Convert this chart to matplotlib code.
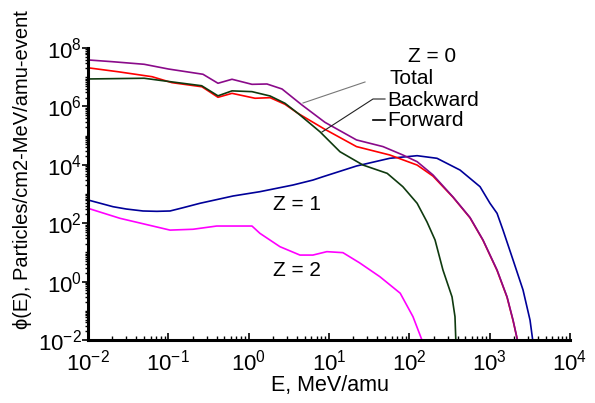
import numpy as np
import matplotlib
matplotlib.use("Agg")
import matplotlib.pyplot as plt
from matplotlib.ticker import LogLocator, FuncFormatter, NullFormatter
from matplotlib.lines import Line2D

plt.rcParams['font.family'] = ['Liberation Sans', 'DejaVu Sans']
plt.rcParams['mathtext.fontset'] = 'custom'
plt.rcParams['mathtext.rm'] = 'Liberation Sans'
plt.rcParams['mathtext.it'] = 'Liberation Sans:italic'
plt.rcParams['mathtext.bf'] = 'Liberation Sans:bold'
plt.rcParams['mathtext.default'] = 'regular'

# ---- data (E in MeV/amu, phi in particles/cm2-MeV/amu-event) ----
E_total = [0.01, 0.02, 0.05, 0.1, 0.27, 0.415, 0.62, 1.1, 1.69, 2.6, 4.6, 8.9,
           22, 47, 83, 125, 197, 350, 569, 826, 1236, 1646, 1955, 2255]
phi_total = [3.9e7, 3.4e7, 2.77e7, 1.91e7, 1.26e7, 6.2e6, 8.5e6, 5.7e6, 5.85e6,
             3.95e6, 1.12e6, 2.85e5, 7.1e4, 4.2e4, 2.17e4, 1.28e4, 4.5e3, 790,
             157, 26.6, 2.5, 0.30, 0.048, 0.008]

E_back = [0.01, 0.0236, 0.0627, 0.111, 0.262, 0.415, 0.62, 1.2, 1.85, 2.83, 4.1,
          8.7, 22, 57, 125, 197, 350, 569, 826, 1236, 1646, 1955, 2255]
phi_back = [2.1e7, 1.54e7, 1.04e7, 6.5e6, 4.7e6, 2.05e6, 2.8e6, 1.9e6, 1.99e6,
            1.18e6, 5.8e5, 1.7e5, 4.2e4, 2.17e4, 9.8e3, 4.1e3, 770, 153, 26,
            2.4, 0.29, 0.046, 0.008]

E_fwd = [0.01, 0.05, 0.091, 0.26, 0.415, 0.62, 1.1, 1.85, 2.83, 4.1, 7.7, 13.7,
         26.5, 53, 83, 125, 166, 209, 262, 340, 370, 380]
phi_fwd = [8.7e6, 9.2e6, 7.4e6, 5.1e6, 2.3e6, 3.4e6, 3.2e6, 2.27e6, 1.28e6,
           5.8e5, 1.36e5, 2.8e4, 9.8e3, 5.1e3, 1.78e3, 481, 110, 26.6, 2.5,
           0.30, 0.063, 0.008]

E_z1 = [0.01, 0.0205, 0.030, 0.0484, 0.072, 0.105, 0.153, 0.248, 0.64, 1.38,
        3.56, 6.3, 8.4, 22, 57, 125, 221, 428, 759, 1009, 1236, 1466, 1955,
        2600, 3180, 3470]
phi_z1 = [624, 367, 306, 262, 255, 262, 340, 481, 855, 1.2e3, 2.03e3, 3.0e3,
          3.9e3, 9.1e3, 1.67e4, 2.05e4, 1.67e4, 6.6e3, 1.78e3, 481, 218, 58,
          5.5, 0.52, 0.048, 0.008]

E_z2 = [0.01, 0.025, 0.105, 0.203, 0.40, 1.1, 1.38, 2.45, 4.35, 6.3, 9.4, 14.9,
        24, 43, 77, 111, 148]
phi_z2 = [324, 147, 58, 62, 80, 80, 45, 15.7, 8.1, 8.1, 10.6, 9.8, 4.4, 1.47,
          0.40, 0.063, 0.008]

x_major = [1e-2, 1e-1, 1e0, 1e1, 1e2, 1e3, 1e4]
y_major = [1e-2, 1e0, 1e2, 1e4, 1e6, 1e8]

W, H = 595, 403
fig = plt.figure(figsize=(W / 100, H / 100), dpi=100)
ax = fig.add_axes([88 / W, 1 - 340 / H, (570 - 88) / W, (340 - 48) / H])

lw = 1.2
ax.plot(E_z1, phi_z1, color='#000099', lw=lw)
ax.plot(E_z2, phi_z2, color='#ff00ff', lw=lw)
ax.plot(E_back, phi_back, color='#ff0000', lw=lw)
ax.plot(E_fwd, phi_fwd, color='#0f3a0f', lw=lw)
ax.plot(E_total, phi_total, color='#8a0a8a', lw=lw)

ax.set_xscale('log')
ax.set_yscale('log')
ax.set_xlim(1e-2, 1e4)
ax.set_ylim(1e-2, 1e8)

fmt = FuncFormatter(lambda v, p: r'$\mathregular{10^{%d}}$' % int(round(np.log10(v))))
ax.set_xticks(x_major)
ax.set_yticks(y_major)
ax.xaxis.set_major_formatter(fmt)
ax.yaxis.set_major_formatter(fmt)
ax.xaxis.set_minor_locator(LogLocator(base=10, subs=np.arange(1, 10), numticks=100))
ax.yaxis.set_minor_locator(LogLocator(base=10, subs=np.arange(1, 10), numticks=100))
ax.xaxis.set_minor_formatter(NullFormatter())
ax.yaxis.set_minor_formatter(NullFormatter())

for s in ['top', 'right']:
    ax.spines[s].set_visible(False)
for s in ['left', 'bottom']:
    ax.spines[s].set_linewidth(2.2)

ax.tick_params(axis='x', which='major', direction='in', length=5, width=1.2,
               labelsize=16, pad=7)
ax.tick_params(axis='x', which='minor', direction='in', length=3, width=1.0)
ax.tick_params(axis='y', which='major', direction='out', length=4, width=1.2,
               labelsize=16, pad=0.5)
ax.tick_params(axis='y', which='minor', direction='out', length=2.5, width=1.0)

# axis labels
fig.text(330 / W, 1 - 385 / H, 'E, MeV/amu', fontsize=15.5, ha='center', va='center')
fig.text(23 / W, 1 - 170 / H, 'ϕ(E), Particles/cm2-MeV/amu-event', fontsize=14.5,
         rotation=90, ha='center', va='center')

# annotations
fs = 15
fig.text(432 / W, 1 - 57 / H, 'Z = 0', fontsize=fs, ha='center', va='center')
fig.text(389 / W, 1 - 78 / H, 'Total', fontsize=fs, ha='left', va='center')
fig.text(387 / W, 1 - 100 / H, 'Backward', fontsize=fs, ha='left', va='center')
fig.text(387 / W, 1 - 121 / H, 'Forward', fontsize=fs, ha='left', va='center')
fig.text(273 / W, 1 - 205 / H, 'Z = 1', fontsize=fs, ha='left', va='center')
fig.text(273 / W, 1 - 271 / H, 'Z = 2', fontsize=fs, ha='left', va='center')

def px_line(xs, ys, **kw):
    fig.add_artist(Line2D([x / W for x in xs], [1 - y / H for y in ys],
                          transform=fig.transFigure, **kw))

px_line([303, 365], [103, 82], color='#777777', lw=0.8)
px_line([322, 373, 385], [132, 99, 99], color='#222222', lw=0.8)
px_line([373, 385], [120, 120], color='#000000', lw=1.2)

fig.savefig('out.png', dpi=100)
